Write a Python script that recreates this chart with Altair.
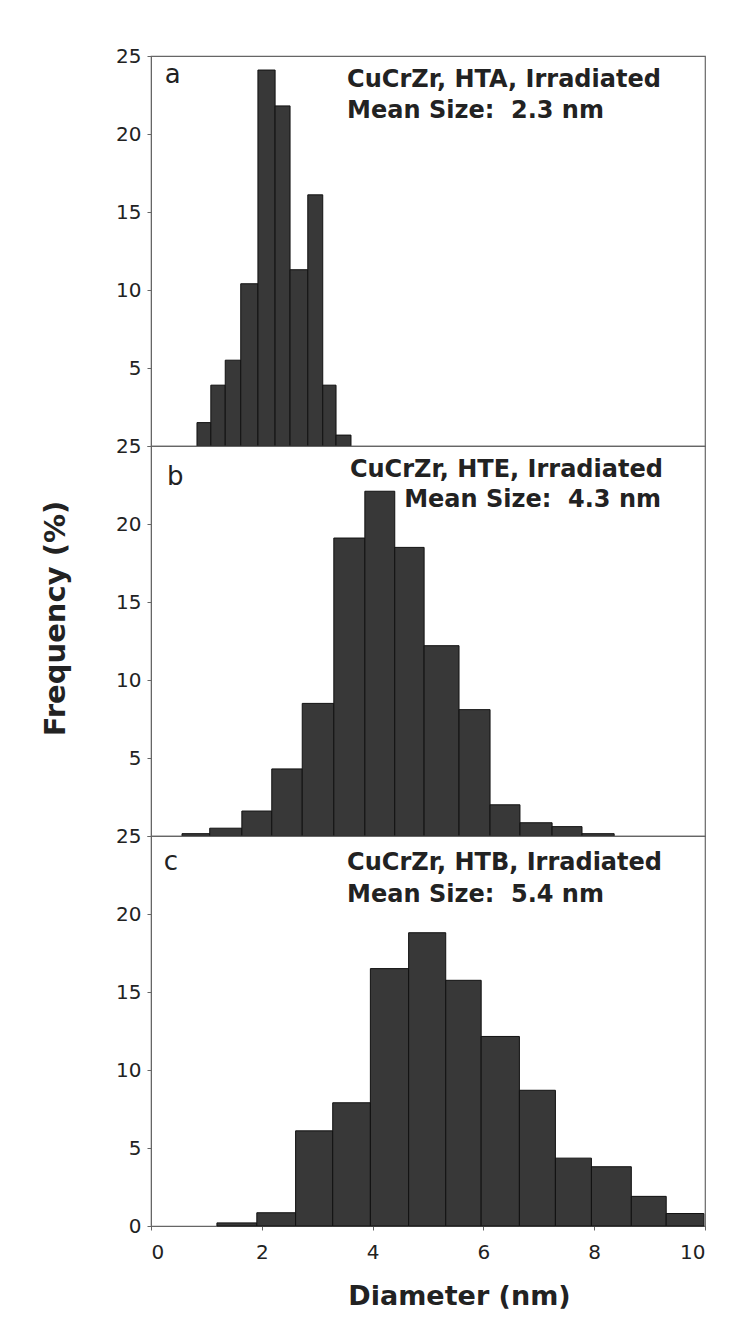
import altair as alt
import pandas as pd

# ---- data (diameter bin edges in nm, frequency in %) ----
a_edges = [0.83, 1.08, 1.34, 1.62, 1.93, 2.24, 2.51, 2.83, 3.10, 3.34, 3.61]
a_freq = [1.5, 3.9, 5.5, 10.4, 24.1, 21.8, 11.3, 16.1, 3.9, 0.7]

b_edges = [0.56, 1.06, 1.64, 2.18, 2.73, 3.30, 3.86, 4.40, 4.93, 5.56, 6.12, 6.66, 7.24, 7.78, 8.36]
b_freq = [0.15, 0.5, 1.6, 4.3, 8.5, 19.1, 22.1, 18.5, 12.2, 8.1, 2.0, 0.85, 0.6, 0.15]

c_edges = [1.19, 1.91, 2.61, 3.28, 3.96, 4.65, 5.32, 5.96, 6.65, 7.30, 7.95, 8.67, 9.30, 9.98]
c_freq = [0.2, 0.85, 6.1, 7.9, 16.5, 18.8, 15.75, 12.15, 8.7, 4.35, 3.8, 1.9, 0.8]

panel_letters = ["a", "b", "c"]
sample_labels = ["CuCrZr, HTA, Irradiated", "CuCrZr, HTE, Irradiated", "CuCrZr, HTB, Irradiated"]
mean_sizes = ["2.3", "4.3", "5.4"]

x_ticks = [0, 2, 4, 6, 8, 10]
y_ticks = [0, 5, 10, 15, 20, 25]

# annotation anchors in data units (nm, %)
letter_pos = [(0.25, 23.3), (0.29, 22.5), (0.23, 22.8)]
line1_pos = [(3.54, 23.0), (3.59, 23.0), (3.54, 22.8)]
line2_pos = [(3.54, 21.0), (4.57, 21.1), (3.54, 20.8)]

W, H = 554, 390
TXT = "#222222"
BAR_FILL = "#383838"
FRAME = "#666666"


def panel(i, edges, freq, show_x, show_title, hide_zero):
    df = pd.DataFrame({"x0": edges[:-1], "x1": edges[1:], "freq": freq})
    xscale = alt.Scale(domain=[0, 10], nice=False, zero=False)
    yscale = alt.Scale(domain=[0, 25], nice=False)

    if show_x:
        xaxis = alt.Axis(values=x_ticks, grid=False, tickSize=4, labelPadding=12,
                         labelFont="DejaVu Sans", labelFontSize=20, labelColor=TXT,
                         domainColor=FRAME, tickColor=FRAME,
                         title="Diameter (nm)", titleFont="DejaVu Sans", titleFontSize=27,
                         titleFontWeight="bold", titleColor=TXT, titlePadding=21,
                         titleX=308, titleAlign="center")
    else:
        xaxis = None

    yaxis_kw = dict(values=y_ticks, grid=False, tickSize=4, labelPadding=6,
                    labelFont="DejaVu Sans", labelFontSize=20, labelColor=TXT,
                    domainColor=FRAME, tickColor=FRAME,
                    title="Frequency (%)", titleFont="DejaVu Sans", titleFontSize=29,
                    titleFontWeight="bold", titleColor=TXT, titlePadding=45,
                    titleOpacity=1 if show_title else 0)
    if hide_zero:
        yaxis_kw["labelExpr"] = "datum.value == 0 ? '' : datum.label"
    if show_title:
        yaxis_kw["titleY"] = 172
    yaxis = alt.Axis(**yaxis_kw)

    bars = alt.Chart(df).mark_rect(fill=BAR_FILL, stroke="#111111", strokeWidth=1).encode(
        x=alt.X("x0:Q", scale=xscale, axis=xaxis),
        x2="x1:Q",
        y=alt.Y("freq:Q", scale=yscale, axis=yaxis),
        y2=alt.datum(0),
    )

    letter_df = pd.DataFrame({"x": [letter_pos[i][0]], "y": [letter_pos[i][1]], "t": [panel_letters[i]]})
    letter = alt.Chart(letter_df).mark_text(align="left", baseline="alphabetic", font="DejaVu Sans",
                                            fontSize=26, color=TXT).encode(
        x=alt.X("x:Q", scale=xscale), y=alt.Y("y:Q", scale=yscale), text="t:N")

    lines_df = pd.DataFrame({
        "x": [line1_pos[i][0], line2_pos[i][0]],
        "y": [line1_pos[i][1], line2_pos[i][1]],
        "t": [sample_labels[i], "Mean Size:\u00a0 " + mean_sizes[i] + " nm"],
    })
    lines = alt.Chart(lines_df).mark_text(align="left", baseline="alphabetic", font="DejaVu Sans",
                                          fontSize=24, fontWeight="bold", color=TXT).encode(
        x=alt.X("x:Q", scale=xscale), y=alt.Y("y:Q", scale=yscale), text="t:N")

    return alt.layer(bars, letter, lines).properties(width=W, height=H)


pa = panel(0, a_edges, a_freq, show_x=False, show_title=False, hide_zero=True)
pb = panel(1, b_edges, b_freq, show_x=False, show_title=True, hide_zero=True)
pc = panel(2, c_edges, c_freq, show_x=True, show_title=False, hide_zero=False)

chart = alt.vconcat(pa, pb, pc, spacing=0, bounds="flush").properties(
    padding={"left": 40, "top": 45, "right": 5, "bottom": 5},
    background="white",
).configure_view(stroke=FRAME, strokeWidth=1.2)

chart.save("out.html", embed_options={"renderer": "svg", "actions": False})
